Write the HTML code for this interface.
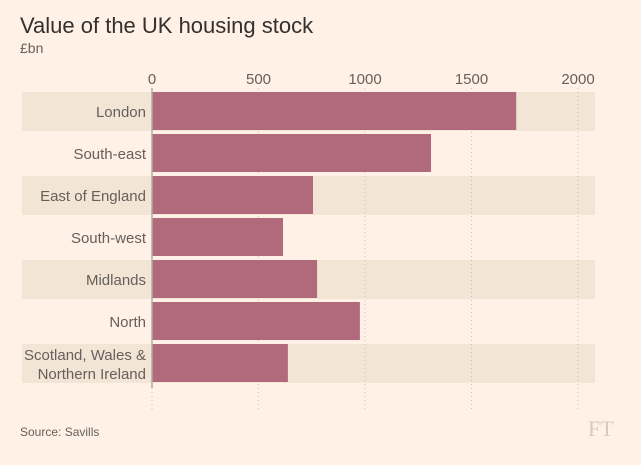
<!DOCTYPE html>
<html><head><meta charset="utf-8"><style>
body{margin:0;background:#fff1e5;font-family:"Liberation Sans",sans-serif;}
</style></head><body>
<svg width="641" height="460" xmlns="http://www.w3.org/2000/svg">
<rect width="641" height="460" fill="#fff1e5"/>
<text x="20" y="33" font-size="22" fill="#33302e">Value of the UK housing stock</text>
<text x="20" y="53" font-size="14" fill="#66605c">£bn</text>
<g id="plot"></g>
<text x="20" y="436" font-size="12" fill="#66605c">Source: Savills</text>
<text x="588" y="436" font-size="22" font-family="Liberation Serif,serif" fill="#d8cbbd">FT</text>
</svg>
<script>
const categories=["London","South-east","East of England","South-west","Midlands","North","Scotland, Wales & Northern Ireland"];
const values=[1710,1310,756,615,775,976,638];
const ticks=[0,500,1000,1500,2000];
const NS="http://www.w3.org/2000/svg";
const g=document.getElementById('plot');
const x0=152,sc=(578-152)/2000;
const xs=v=>x0+v*sc;
const rowTop=i=>92+i*42;
function mk(t,a,p){const e=document.createElementNS(NS,t);for(const k in a)e.setAttribute(k,a[k]);(p||g).appendChild(e);return e;}
categories.forEach((c,i)=>{if(i%2===0){const b=mk('rect',{x:22,y:rowTop(i),width:573,height:39,fill:'#f2e5d5'});

}});
ticks.forEach(t=>{const l=mk('line',{x1:xs(t),x2:xs(t),y1:88,y2:412,stroke:'#ccc1b7','stroke-dasharray':'1,3','stroke-width':1});


const tx=mk('text',{x:xs(t),y:84,'text-anchor':'middle','font-size':15,fill:'#66605c'});tx.textContent=t;

});
categories.forEach((c,i)=>{
const b=mk('rect',{x:xs(0),y:rowTop(i),width:xs(values[i])-xs(0),height:38,fill:'#b06a7c'});


const lines=c==="Scotland, Wales & Northern Ireland"?["Scotland, Wales &","Northern Ireland"]:[c];
lines.forEach((ln,j)=>{const t=mk('text',{x:146,y:rowTop(i)+25+(lines.length>1?(j*19-9):0),'text-anchor':'end','font-size':15,fill:'#66605c'});t.textContent=ln;

});
});
const ax=mk('line',{x1:x0,x2:x0,y1:88,y2:388,stroke:'#b3a99f','stroke-width':1.5});


</script>
</body></html>
